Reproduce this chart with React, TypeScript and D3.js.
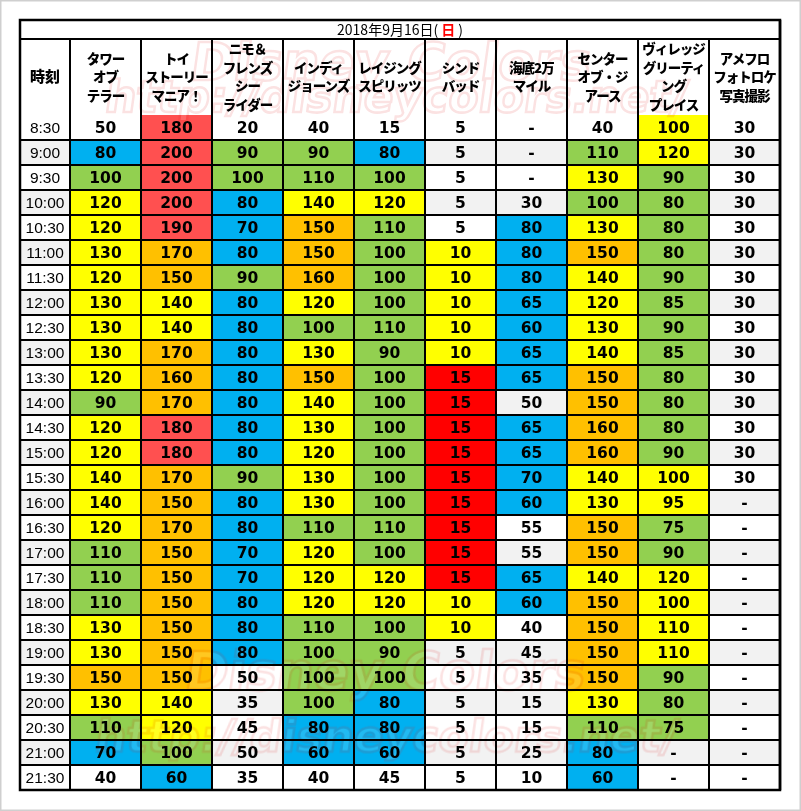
import * as d3 from "d3";
import React from "react";

// time slots (rows)
const times = [
  "8:30", "9:00", "9:30", "10:00", "10:30", "11:00", "11:30", "12:00", "12:30",
  "13:00", "13:30", "14:00", "14:30", "15:00", "15:30", "16:00", "16:30", "17:00",
  "17:30", "18:00", "18:30", "19:00", "19:30", "20:00", "20:30", "21:00", "21:30",
];

// attraction header lines
const attractions = [
  ["タワー", "オブ", "テラー"],
  ["トイ", "ストーリー", "マニア！"],
  ["ニモ＆", "フレンズ", "シー", "ライダー"],
  ["インディ", "ジョーンズ"],
  ["レイジング", "スピリッツ"],
  ["シンド", "バッド"],
  ["海底2万", "マイル"],
  ["センター", "オブ・ジ", "アース"],
  ["ヴィレッジ", "グリーティ", "ング", "プレイス"],
  ["アメフロ", "フォトロケ", "写真撮影"],
];

// wait times (minutes), null = "-"
const towerOfTerror = [50, 80, 100, 120, 120, 130, 120, 130, 130, 130, 120, 90, 120, 120, 140, 140, 120, 110, 110, 110, 130, 130, 150, 130, 110, 70, 40];
const toyStory = [180, 200, 200, 200, 190, 170, 150, 140, 140, 170, 160, 170, 180, 180, 170, 150, 170, 150, 150, 150, 150, 150, 150, 140, 120, 100, 60];
const nemo = [20, 90, 100, 80, 70, 80, 90, 80, 80, 80, 80, 80, 80, 80, 90, 80, 80, 70, 70, 80, 80, 80, 50, 35, 45, 50, 35];
const indy = [40, 90, 110, 140, 150, 150, 160, 120, 100, 130, 150, 140, 130, 120, 130, 130, 110, 120, 120, 120, 110, 100, 100, 100, 80, 60, 40];
const raging = [15, 80, 100, 120, 110, 100, 100, 100, 110, 90, 100, 100, 100, 100, 100, 100, 110, 100, 120, 120, 100, 90, 100, 80, 80, 60, 45];
const sindbad = [5, 5, 5, 5, 5, 10, 10, 10, 10, 10, 15, 15, 15, 15, 15, 15, 15, 15, 15, 10, 10, 5, 5, 5, 5, 5, 5];
const leagues = [null, null, null, 30, 80, 80, 80, 65, 60, 65, 65, 50, 65, 65, 70, 60, 55, 55, 65, 60, 40, 45, 35, 15, 15, 25, 10];
const centerEarth = [40, 110, 130, 100, 130, 150, 140, 120, 130, 140, 150, 150, 160, 160, 140, 130, 150, 150, 140, 150, 150, 150, 150, 130, 110, 80, 60];
const village = [100, 120, 90, 80, 80, 80, 90, 85, 90, 85, 80, 80, 80, 90, 100, 95, 75, 90, 120, 100, 110, 110, 90, 80, 75, null, null];
const photo = [30, 30, 30, 30, 30, 30, 30, 30, 30, 30, 30, 30, 30, 30, 30, null, null, null, null, null, null, null, null, null, null, null, null];

// crowd level per cell: w none, b blue, g green, y yellow, o orange, r light red, R red
const levelCodes = [
  "wbgyyyyyyyygyyyyygggyyoygbw",
  "rrrrrooyyooorroooooooooyygb",
  "wggbbbgbbbbbbbgbbbbbbbwwwww",
  "wggyoooygyoyyyyygyyyggggbbw",
  "wbgyggggggggggggggyygggbbbw",
  "wwwwwyyyyyRRRRRRRRRyywwwwww",
  "wwwwbbbbbbbwbbbbwwbbwwwwwww",
  "wgygyoyyyyooooyyooyooooygbb",
  "yyggggggggggggyyggyyyygggww",
  "wwwwwwwwwwwwwwwwwwwwwwwwwww",
];

const series = [towerOfTerror, toyStory, nemo, indy, raging, sindbad, leagues, centerEarth, village, photo];

const levelColor: Record<string, string | null> = {
  w: null,
  b: "#00b0f0",
  g: "#92d050",
  y: "#ffff00",
  o: "#ffc000",
  r: "#ff5050",
  R: "#ff0000",
};

export default function App() {
  const width = 801;
  const height = 811;
  const left = 20;
  const right = 780;
  const top = 20;
  const titleBottom = 39;
  const headerBottom = 115;
  const bottom = 790;
  const timeColRight = 70;

  const colKeys = attractions.map((d, i) => String(i));
  const x = d3.scaleBand<string>().domain(colKeys).range([timeColRight, right]);
  const y = d3.scaleBand<string>().domain(times).range([headerBottom, bottom]);

  const vLines = [left, timeColRight, ...colKeys.map((k) => (x(k) as number) + x.bandwidth())];
  const hLines = [top, titleBottom, ...times.map((t) => (y(t) as number) + y.bandwidth())];

  const numFont = "'DejaVu Sans', sans-serif";
  const jpFont = "'Noto Sans CJK JP', sans-serif";

  return (
    <div style={{ position: "absolute", left: 0, top: 0 }}>
      <svg width={width} height={height} style={{ display: "block", background: "#fff" }}>
        <rect x={0.5} y={0.5} width={width - 1} height={height - 1} fill="none" stroke="#cfcfcf" strokeWidth={2} />

        {/* row stripes */}
        {times.map((t, i) => (
          <rect key={"s" + t} x={left} y={y(t)} width={right - left} height={y.bandwidth()} fill={i % 2 ? "#f2f2f2" : "#fff"} />
        ))}

        {/* colored cells */}
        {series.map((vals, c) =>
          vals.map((v, r) => {
            const col = levelColor[levelCodes[c][r]];
            if (!col) return null;
            return (
              <rect key={`c${c}-${r}`} x={x(String(c))} y={y(times[r])} width={x.bandwidth()} height={y.bandwidth()} fill={col} />
            );
          })
        )}

        {/* watermark */}
        <g opacity={0.13} fontFamily="'DejaVu Sans', sans-serif" fontWeight="bold" fill="#fff" stroke="#e02020" strokeWidth={2.5}>
          <text x={400} y={80} textAnchor="middle" fontSize={52} transform="skewX(-8)">Disney Colors</text>
          <text x={410} y={112} textAnchor="middle" fontSize={44} transform="skewX(-8)">http://disneycolors.net/</text>
          <text x={480} y={690} textAnchor="middle" fontSize={52} transform="skewX(-8)">Disney Colors</text>
          <text x={490} y={752} textAnchor="middle" fontSize={44} transform="skewX(-8)">http://disneycolors.net/</text>
        </g>

        {/* title */}
        <text x={(left + right) / 2} y={(top + titleBottom) / 2 + 5} textAnchor="middle" fontFamily={jpFont} fontSize={14} fill="#000">
          2018年9月16日(<tspan fill="#ff0000" fontWeight="bold" dx={3}>日</tspan><tspan dx={3}>)</tspan>
        </text>

        {/* header */}
        <text x={(left + timeColRight) / 2} y={(titleBottom + headerBottom) / 2 + 5} textAnchor="middle" fontFamily={jpFont} fontWeight={900} fontSize={15}>
          時刻
        </text>
        {attractions.map((lines, i) => {
          const cx = (x(String(i)) as number) + x.bandwidth() / 2;
          const lh = 18.5;
          const cy = (titleBottom + headerBottom) / 2;
          const y0 = cy - ((lines.length - 1) * lh) / 2 + 5;
          return (
            <text key={"h" + i} textAnchor="middle" fontFamily={jpFont} fontWeight={900} fontSize={13.5} letterSpacing={-1}>
              {lines.map((l, j) => (
                <tspan key={j} x={cx} y={y0 + j * lh}>{l}</tspan>
              ))}
            </text>
          );
        })}

        {/* time labels */}
        {times.map((t) => (
          <text key={"t" + t} x={(left + timeColRight) / 2} y={(y(t) as number) + y.bandwidth() / 2 + 5.5} textAnchor="middle" fontFamily="'Liberation Sans', Arial, sans-serif" fontSize={15.5}>
            {t}
          </text>
        ))}

        {/* values */}
        {series.map((vals, c) =>
          vals.map((v, r) => (
            <text key={`v${c}-${r}`} x={(x(String(c)) as number) + x.bandwidth() / 2} y={(y(times[r]) as number) + y.bandwidth() / 2 + 5.5} textAnchor="middle" fontFamily={numFont} fontWeight="bold" fontSize={15.5}>
              {v == null ? "-" : v}
            </text>
          ))
        )}

        {/* grid */}
        {vLines.map((vx, i) => (
          <line key={"vl" + i} x1={vx} x2={vx} y1={i === 0 ? top : titleBottom} y2={bottom} stroke="#000" strokeWidth={2} />
        ))}
        <line x1={right} x2={right} y1={top} y2={bottom} stroke="#000" strokeWidth={2.5} />
        {hLines.map((hy, i) => (
          <line key={"hl" + i} x1={left} x2={right} y1={hy} y2={hy} stroke="#000" strokeWidth={2} />
        ))}
        <rect x={left} y={top} width={right - left} height={bottom - top} fill="none" stroke="#000" strokeWidth={2.5} />
      </svg>
    </div>
  );
}
